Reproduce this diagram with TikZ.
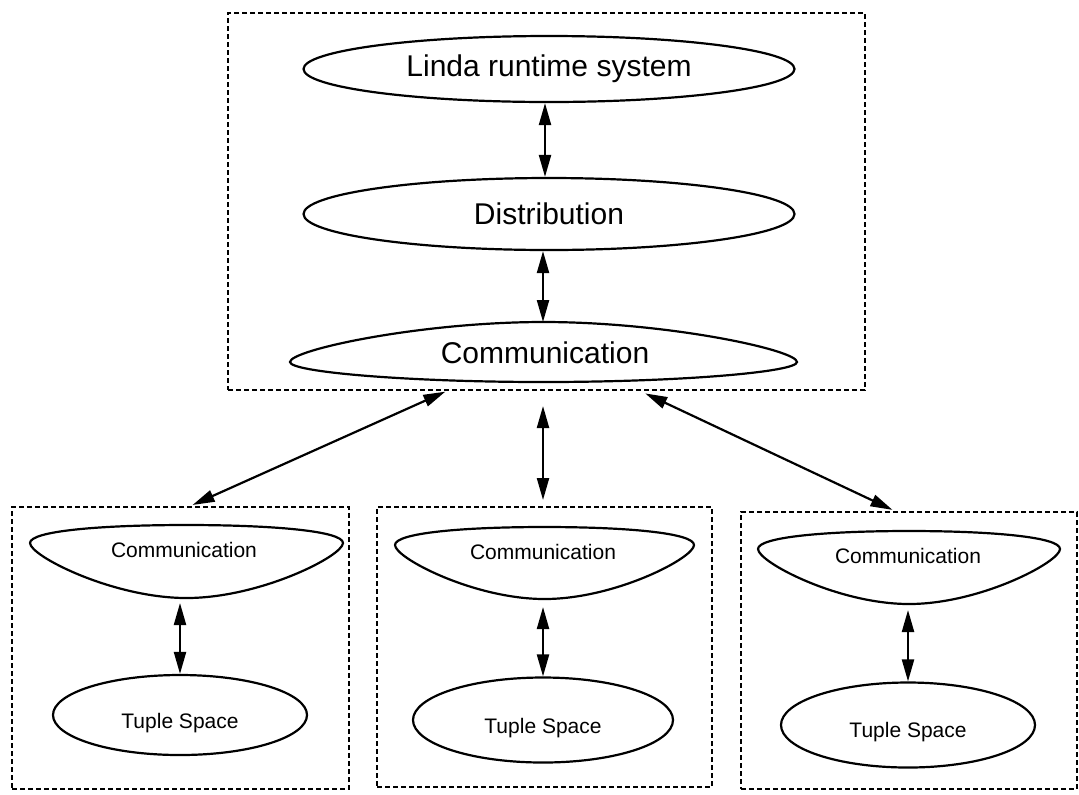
\documentclass[tikz,border=0pt]{standalone}
\usepackage{fontspec}
\setmainfont{Liberation Sans}
\usetikzlibrary{arrows.meta,shapes.geometric}
\begin{document}
\begin{tikzpicture}[x=0.5pt,y=-0.5pt,
  frame/.style={draw, line width=1.25pt, dash pattern=on 2.5pt off 1.5pt, inner sep=0pt, outer sep=0pt},
  oval/.style={draw, ellipse, line width=1.1pt, inner sep=0pt},
  bigtext/.style={font=\fontsize{15}{18}\selectfont},
  smalltext/.style={font=\fontsize{10.5}{12}\selectfont},
  lens/.style={draw, line width=1.1pt},
  link/.style={line width=1.1pt, {Triangle[length=11pt,width=6pt]}-{Triangle[length=11pt,width=6pt]}},
]
\useasboundingbox (0,0) rectangle (1079,794);

% dashed enclosures
\node[frame, minimum width=318.5pt, minimum height=188.5pt] (upper) at (546.5,201.5) {};
\node[frame, minimum width=168.5pt, minimum height=141pt] (leftsite) at (180.5,648) {};
\node[frame, minimum width=167.5pt, minimum height=140pt] (midsite) at (544.5,647) {};
\node[frame, minimum width=168pt, minimum height=138.5pt] (rightsite) at (909,650.5) {};

% central layers
\node[oval, bigtext, minimum width=245.5pt, minimum height=33pt] (linda) at (549,69) {Linda runtime system};
\node[oval, bigtext, minimum width=245.5pt, minimum height=36pt] (dist) at (549,214) {Distribution};
\draw[lens] (290,362) .. controls (290,350) and (420,322) .. (543.5,322)
                      .. controls (667,322) and (797,350) .. (797,362)
                      .. controls (797,372) and (680,382) .. (543.5,382)
                      .. controls (407,382) and (290,372) .. cycle;
\coordinate (commtop) at (543.5,322);
\node[bigtext] (comm) at (545,353) {Communication};

\draw[link] (linda.south -| 545,0) -- (dist.north -| 545,0);
\draw[link] (dist.south -| 543,0) -- (commtop -| 543,0);

% left site
\draw[lens] (30,543) .. controls (30,531) and (100,525) .. (186.5,525)
                     .. controls (273,525) and (343,531) .. (343,543)
                     .. controls (343,556) and (260,598) .. (186.5,598)
                     .. controls (113,598) and (30,556) .. cycle;
\coordinate (lcbot) at (180,598);
\node[smalltext] (lcomm) at (184,550) {Communication};
\node[oval, minimum width=127pt, minimum height=40pt] (ltuple) at (180,715) {};
\node[smalltext] (ltupletxt) at (180,723) {Tuple Space};
\draw[link, shorten <=2.5pt] (lcbot) -- (ltuple.north);

% middle site
\draw[lens] (395,545) .. controls (395,533) and (462,527) .. (544.5,527)
                      .. controls (627,527) and (694,533) .. (694,545)
                      .. controls (694,558) and (615,599) .. (544.5,599)
                      .. controls (474,599) and (395,558) .. cycle;
\coordinate (mcbot) at (543,599);
\node[smalltext] (mcomm) at (543,552) {Communication};
\node[oval, minimum width=130pt, minimum height=42.5pt] (mtuple) at (543,720) {};
\node[smalltext] (mtupletxt) at (543,728) {Tuple Space};
\draw[link, shorten <=4pt] (mcbot) -- (mtuple.north);

% right site
\draw[lens] (758,549) .. controls (758,537) and (826,531) .. (909,531)
                      .. controls (992,531) and (1060,537) .. (1060,549)
                      .. controls (1060,562) and (980,604) .. (909,604)
                      .. controls (838,604) and (758,562) .. cycle;
\coordinate (rcbot) at (908,604);
\node[smalltext] (rcomm) at (908,556) {Communication};
\node[oval, minimum width=127pt, minimum height=42.5pt] (rtuple) at (908,725) {};
\node[smalltext] (rtupletxt) at (908,732) {Tuple Space};
\draw[link, shorten <=3pt] (rcbot) -- (rtuple.north);

% links between the runtime and the sites
\draw[link, shorten <=2pt, shorten >=2.5pt] (upper.south -| 449,0) -- (leftsite.north -| 188,0);
\draw[link, shorten <=8pt, shorten >=3.5pt] (upper.south -| 543,0) -- (midsite.north -| 543,0);
\draw[link, shorten <=4pt, shorten >=2.5pt] (upper.south -| 638,0) -- (rightsite.north -| 897,0);
\end{tikzpicture}
\end{document}
